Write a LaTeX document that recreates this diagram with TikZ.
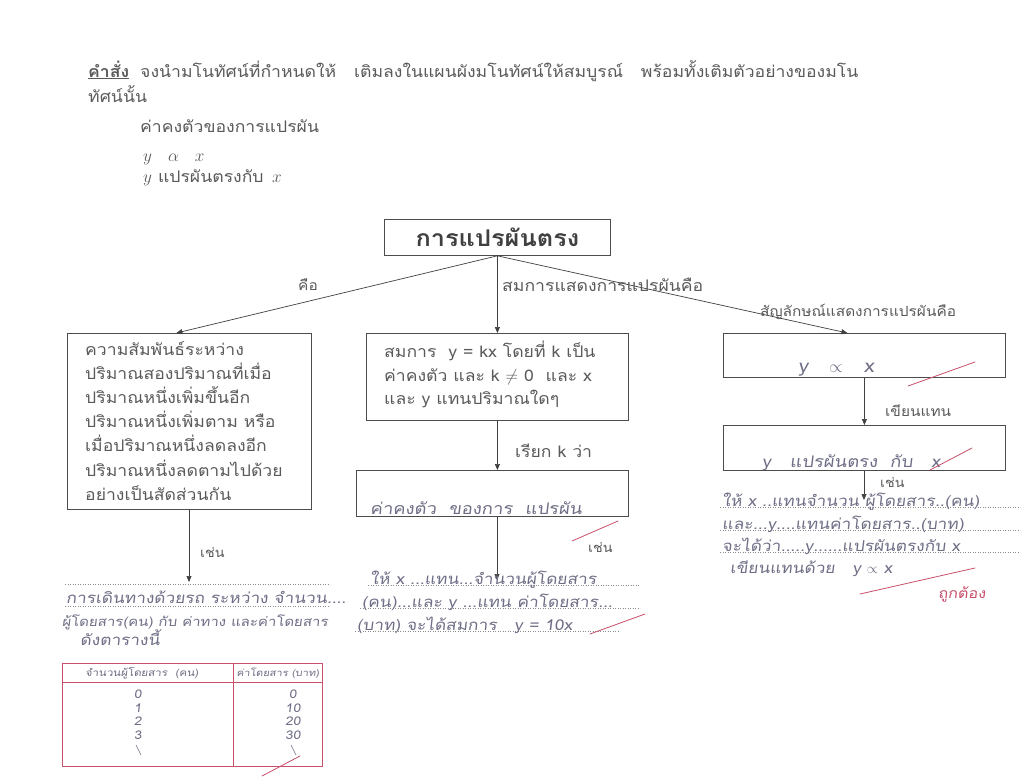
\documentclass[tikz,border=0pt]{standalone}
\usepackage{fontspec}
\setmainfont{Loma}[Script=Thai,FakeStretch=1.1]
\newfontfamily\handfont[Script=Thai,FakeSlant=0.12,FakeStretch=1.15]{Loma}
\usetikzlibrary{arrows.meta}
\definecolor{ink}{HTML}{5A5A5A}
\definecolor{pen}{HTML}{6E6E86}
\definecolor{redpen}{HTML}{C8506A}
\tikzset{
  printed/.style={text=ink, font=\fontsize{16}{18}\selectfont, inner sep=0pt, anchor=base west},
  small/.style={printed, font=\fontsize{13}{15}\selectfont},
  hand/.style={text=pen, font=\handfont\fontsize{15}{17}\selectfont, inner sep=0pt, anchor=base west},
  boxst/.style={draw=black!70, line width=0.8pt, inner sep=0pt, anchor=north west},
  arr/.style={draw=black!75, line width=0.7pt, -{Triangle[length=6pt,width=5pt]}},
  dotline/.style={draw=black!45, line width=0.5pt, dotted},
  check/.style={draw=redpen, line width=0.8pt, line cap=round},
  redline/.style={draw=redpen, line width=0.8pt}
}
\begin{document}
\begin{tikzpicture}[x=1pt,y=-1pt]
\useasboundingbox[fill=white] (0,0) rectangle (1022,780);

% ---- instructions ----
\node[printed] (cmd) at (88,77) {\underline{\textbf{คำสั่ง}}};
\node[printed] (inst1) at (140,77) {จงนำมโนทัศน์ที่กำหนดให้ \ \ เติมลงในแผนผังมโนทัศน์ให้สมบูรณ์ \ \ พร้อมทั้งเติมตัวอย่างของมโน};
\node[printed] (inst2) at (88,102) {ทัศน์นั้น};
\node[printed] (c1) at (140,132) {ค่าคงตัวของการแปรผัน};
\node[printed] (c2) at (143,161) {$y\quad\alpha\quad x$};
\node[printed] (c3) at (143,182) {$y$ แปรผันตรงกับ \,$x$};

% ---- title ----
\node[boxst, minimum width=226, minimum height=36] (title) at (384,219) {};
\node[text=black!75, font=\fontsize{23}{26}\selectfont\bfseries, inner sep=0pt] (titletxt) at (title.center) {การแปรผันตรง};

% ---- left branch ----
\node[boxst, minimum width=244, minimum height=176] (lbox) at (67,333) {};
\foreach \t [count=\i from 0] in {ความสัมพันธ์ระหว่าง,ปริมาณสองปริมาณที่เมื่อ,ปริมาณหนึ่งเพิ่มขึ้นอีก,ปริมาณหนึ่งเพิ่มตาม หรือ,เมื่อปริมาณหนึ่งลดลงอีก,ปริมาณหนึ่งลดตามไปด้วย,อย่างเป็นสัดส่วนกัน}
  \node[printed] (ltxt\i) at (85,355+24.2*\i) {\t};

% ---- middle branch ----
\node[boxst, minimum width=262, minimum height=87] (mbox) at (366,333) {};
\node[printed] (mtxt1) at (384,357) {สมการ \ y = kx โดยที่ k เป็น};
\node[printed] (mtxt2) at (384,381) {ค่าคงตัว และ k $\neq$ 0 \ และ x};
\node[printed] (mtxt3) at (384,404) {และ y แทนปริมาณใดๆ};
\node[boxst, minimum width=272, minimum height=46] (mbox2) at (356,470) {};
\node[hand, font=\handfont\fontsize{16}{18}\selectfont] (mhand) at (370,514) {ค่าคงตัว \ ของการ \ แปรผัน};

% ---- right branch ----
\node[boxst, minimum width=282, minimum height=44] (rbox) at (723,333) {};
\node[hand, font=\handfont\fontsize{18}{20}\selectfont] (rhand) at (798,372) {y \ \ $\propto$ \ \ x};
\node[boxst, minimum width=282, minimum height=45] (rbox2) at (723,425) {};
\node[hand, font=\handfont\fontsize{16}{18}\selectfont] (rhand2) at (762,467) {y \ \ แปรผันตรง \ กับ \ \ x};

% ---- connectors from title ----
\draw[arr] (title.south) -- ([xshift=-13pt]lbox.north);
\draw[arr] (title.south) -- (mbox.north -| title.south);
\draw[arr] (title.south) -- ([xshift=-17pt]rbox.north);
\node[printed, font=\fontsize{14}{16}\selectfont, anchor=base] (lab1) at (308,290) {คือ};
\node[printed] (lab2) at (502,291) {สมการแสดงการแปรผันคือ};
\node[printed, font=\fontsize{14}{16}\selectfont] (lab3) at (760,316) {สัญลักษณ์แสดงการแปรผันคือ};

% ---- left example ----
\coordinate (lex) at (189,582);
\draw[arr] (lbox.south -| lex) -- (lex);
\node[small] (lab4) at (200,557) {เช่น};
\draw[dotline] (65,584) -- (330,584);
\node[hand] (lh1) at (66,603) {การเดินทางด้วยรถ ระหว่าง จำนวน....};
\draw[dotline] (65,606) -- (330,606);
\node[hand, font=\handfont\fontsize{13}{15}\selectfont] (lh2) at (62,626) {ผู้โดยสาร(คน) กับ ค่าทาง และค่าโดยสาร};
\node[hand] (lh3) at (80,645) {ดังตารางนี้};

% table
\draw[redline] (62,663) rectangle (322,766);
\draw[redline] (62,682) -- (322,682);
\draw[redline] (233,663) -- (233,766);
\node[hand, anchor=center, font=\handfont\fontsize{10}{12}\selectfont] (th1) at (142,673) {จำนวนผู้โดยสาร \ (คน)};
\node[hand, anchor=center, font=\handfont\fontsize{9.5}{11}\selectfont] (th2) at (278,673) {ค่าโดยสาร (บาท)};
\foreach \v/\w [count=\i] in {0/0,1/10,2/20,3/30}{
  \node[hand, anchor=center, font=\handfont\fontsize{12}{14}\selectfont] (ta\i) at (138,681+13.5*\i) {\v};
  \node[hand, anchor=center, font=\handfont\fontsize{12}{14}\selectfont] (tb\i) at (293,681+13.5*\i) {\w};
}
\draw[draw=pen, line width=0.6pt] (136,745) -- (141,755);
\draw[draw=pen, line width=0.6pt] (291,745) -- (296,755);
\draw[check] (262,776) -- (300,756);

% ---- middle example ----
\coordinate (mex) at (497,580);
\draw[arr] (mbox.south) -- (mbox2.north -| mbox.south);
\node[printed] (lab5) at (515,457) {เรียก k ว่า};
\draw[arr] (mbox2.south -| mex) -- (mex);
\node[small] (lab6) at (588,552) {เช่น};
\draw[check] (572,541) -- (618,521);
\draw[dotline] (368,585) -- (640,585);
\node[hand] (mh1) at (370,584) {ให้ x ...แทน...จำนวนผู้โดยสาร};
\draw[dotline] (360,608) -- (640,608);
\node[hand] (mh2) at (362,607) {(คน)...และ y ...แทน ค่าโดยสาร...};
\draw[dotline] (355,631) -- (620,631);
\node[hand] (mh3) at (357,630) {(บาท) จะได้สมการ \ \ y = 10x};
\draw[check] (590,634) -- (645,614);

% ---- right example ----
\coordinate (rex) at (864,500);
\draw[check] (908,386) -- (975,362);
\draw[arr] (rbox.south) -- (rbox2.north -| rbox.south);
\node[printed, font=\fontsize{14}{16}\selectfont] (lab7) at (885,416) {เขียนแทน};
\draw[check] (930,470) -- (972,448);
\draw[arr] (rbox2.south -| rex) -- (rex);
\node[small] (lab8) at (880,487) {เช่น};
\draw[dotline] (720,507) -- (1020,507);
\node[hand] (rh1) at (722,506) {ให้ x ..แทนจำนวน ผู้โดยสาร..(คน)};
\draw[dotline] (720,530) -- (1020,530);
\node[hand] (rh2) at (722,529) {และ...y....แทนค่าโดยสาร..(บาท)};
\draw[dotline] (720,552) -- (1020,552);
\node[hand] (rh3) at (722,551) {จะได้ว่า.....y......แปรผันตรงกับ x};
\node[hand] (rh4) at (730,573) {เขียนแทนด้วย \ \ y $\propto$ x};
\draw[check] (860,594) -- (975,568);
\node[text=redpen, font=\handfont\fontsize{14}{16}\selectfont, inner sep=0pt, anchor=base west] (rgood) at (938,598) {ถูกต้อง};
\end{tikzpicture}
\end{document}
